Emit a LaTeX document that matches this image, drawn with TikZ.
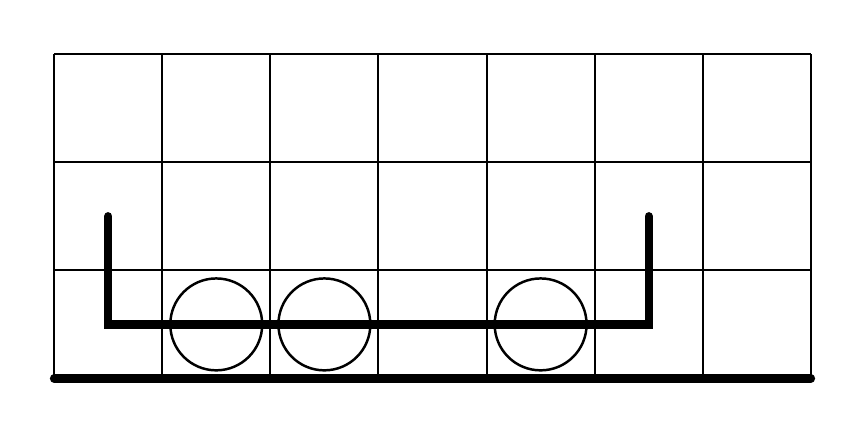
\documentclass[tikz,border=0pt]{standalone}
\usepackage{tikz}
\usetikzlibrary{positioning}

\begin{document}
\begin{tikzpicture}[
  gridline/.style={line width=0.5pt, black},
  rail/.style={line width=2.2pt, black, line cap=round},
  frame/.style={line width=2.2pt, black, line cap=round, line join=miter},
  wheel/.style={draw, circle, line width=0.65pt, minimum size=0.85cm, inner sep=0pt}
]
\useasboundingbox (-0.5,-0.5) rectangle (7.5,3.5);
\draw[gridline] (0,0) grid (7,3);

\coordinate (frameTL) at (0.5,1.5);
\coordinate (frameBL) at (0.5,0.5);
\coordinate (frameBR) at (5.5,0.5);
\coordinate (frameTR) at (5.5,1.5);
\draw[frame] (frameTL) -- (frameBL) -- (frameBR) -- (frameTR);

\foreach \x/\name in {1.5/wheelA, 2.5/wheelB, 4.5/wheelC}
  \node[wheel] (\name) at (\x,0.5) {};

\coordinate (railL) at (0,0);
\coordinate (railR) at (7,0);
\draw[rail] (railL) -- (railR);
\end{tikzpicture}
\end{document}
